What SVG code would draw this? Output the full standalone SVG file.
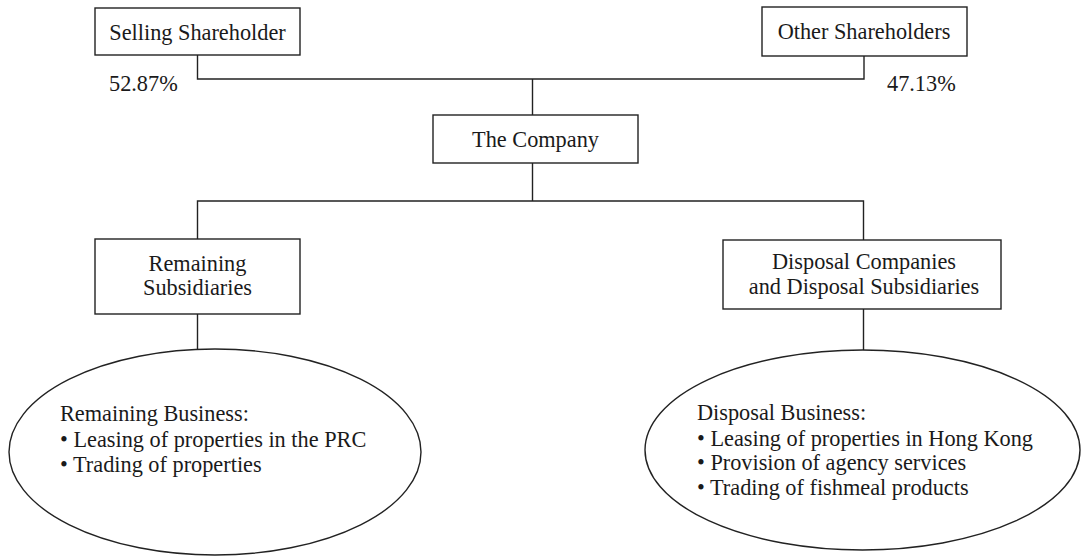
<svg xmlns="http://www.w3.org/2000/svg" width="1081" height="556" viewBox="0 0 1081 556">
<style>
.box{fill:#fff;stroke:#222;stroke-width:1.4}
.ln{fill:none;stroke:#222;stroke-width:1.4}
text{font-family:"Liberation Serif","Times New Roman",serif;font-size:22.3px;fill:#1a1a1a}
.c{text-anchor:middle}
</style>
<rect width="1081" height="556" fill="#fff"/>
<g id="connectors">
<polyline class="ln" points="197.5,55 197.5,79 864,79 864,56"/>
<line class="ln" x1="532.5" y1="79" x2="532.5" y2="115"/>
<polyline class="ln" points="532.5,163 532.5,201"/>
<polyline class="ln" points="197.5,239 197.5,201 863.5,201 863.5,240"/>
<line class="ln" x1="197.5" y1="314" x2="197.5" y2="350"/>
<line class="ln" x1="863.5" y1="309" x2="863.5" y2="350"/>
</g>
<g id="selling">
<rect class="box" x="95" y="8" width="205" height="47"/>
<text class="c" x="197.5" y="39.5">Selling Shareholder</text>
<text x="109" y="90.5">52.87%</text>
</g>
<g id="other">
<rect class="box" x="762" y="7" width="205" height="49"/>
<text class="c" x="864" y="39">Other Shareholders</text>
<text x="887" y="90.5">47.13%</text>
</g>
<g id="company">
<rect class="box" x="433" y="115" width="205" height="48"/>
<text class="c" x="535.5" y="146.5">The Company</text>
</g>
<g id="remaining">
<rect class="box" x="95" y="239" width="205" height="75"/>
<text class="c" x="197.5" y="270.5">Remaining</text>
<text class="c" x="197.5" y="294.5">Subsidiaries</text>
</g>
<g id="disposal">
<rect class="box" x="723" y="240" width="278" height="69"/>
<text class="c" x="864" y="269">Disposal Companies</text>
<text class="c" x="864" y="293.5">and Disposal Subsidiaries</text>
</g>
<g id="remaining-business">
<ellipse class="box" cx="215" cy="452" rx="206" ry="103"/>
<text x="60" y="421">Remaining Business:</text>
<text x="60" y="446.5">• Leasing of properties in the PRC</text>
<text x="60" y="471.5">• Trading of properties</text>
</g>
<g id="disposal-business">
<ellipse class="box" cx="862.5" cy="450" rx="217.5" ry="100"/>
<text x="697" y="420">Disposal Business:</text>
<text x="697" y="445.5">• Leasing of properties in Hong Kong</text>
<text x="697" y="470">• Provision of agency services</text>
<text x="697" y="494.5">• Trading of fishmeal products</text>
</g>
</svg>
